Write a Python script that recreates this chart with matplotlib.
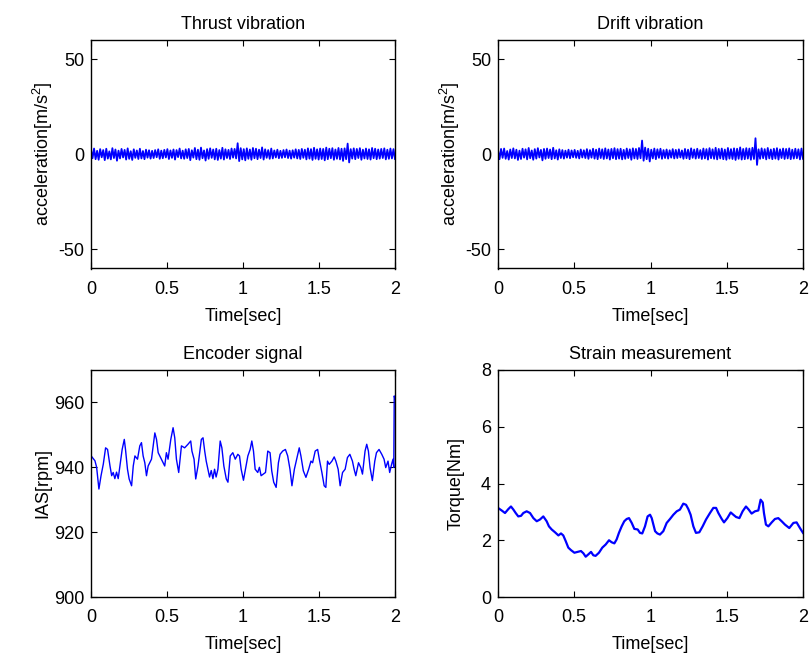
import matplotlib
matplotlib.use("Agg")
import matplotlib.pyplot as plt
import numpy as np

plt.rcParams["font.family"] = ["Liberation Sans", "DejaVu Sans"]
plt.rcParams["mathtext.fontset"] = "custom"
plt.rcParams["mathtext.rm"] = "Liberation Sans"
plt.rcParams["mathtext.it"] = "Liberation Sans"
plt.rcParams["axes.unicode_minus"] = False

# vibration samples (evenly spaced over 0..2 s)
thrust = [
    2.4, -2.1, 3.0, -2.6, 1.8, -2.9, 2.7, -1.6, 2.2, -3.1,
    2.9, -2.3, 1.5, -2.7, 3.2, -2.0, 2.5, -3.4, 1.9, -2.2,
    2.8, -1.7, 2.3, -2.8, 3.1, -2.4, 1.6, -3.0, 2.6, -1.9,
    2.0, -2.5, 2.9, -2.2, 1.7, -2.6, 2.4, -1.8, 2.1, -2.3,
    1.8, -2.0, 2.2, -1.6, 2.6, -2.4, 1.9, -2.1, 2.3, -1.7,
    2.7, -2.5, 2.0, -1.9, 2.5, -2.8, 2.2, -1.5, 3.0, -2.2,
    1.9, -2.4, 2.6, -2.0, 2.8, -3.1, 2.1, -1.8, 3.3, -2.6,
    2.4, -2.9, 3.5, -2.1, 2.0, -3.3, 2.7, -2.4, 3.1, -1.9,
    2.5, -2.7, 2.9, -3.0, 2.2, -2.3, 3.4, -2.8, 2.6, -2.0,
    2.3, -2.5, 3.0, -1.8, 2.8, -2.2, 5.8, -3.6, 3.2, -2.7,
    2.7, -3.2, 3.1, -2.4, 2.5, -2.9, 3.3, -2.1, 2.9, -2.6,
    2.4, -2.0, 3.6, -2.8, 2.6, -1.9, 2.2, -2.4, 3.0, -2.2,
    2.0, -1.7, 2.4, -2.1, 1.8, -1.9, 2.2, -1.6, 2.5, -2.0,
    1.9, -2.3, 2.1, -1.8, 2.6, -2.2, 2.3, -2.5, 2.8, -1.9,
    2.4, -2.7, 3.1, -2.3, 2.7, -3.0, 3.4, -2.4, 2.6, -2.8,
    3.0, -2.5, 2.8, -3.2, 3.5, -2.6, 2.9, -2.1, 3.2, -2.9,
    2.5, -2.4, 3.3, -2.7, 2.9, -3.5, 3.1, -2.6, 5.6, -4.3,
    2.7, -2.3, 3.1, -2.6, 2.8, -2.0, 3.2, -2.9, 2.4, -2.2,
    3.0, -2.5, 2.6, -2.8, 3.3, -2.1, 2.9, -2.6, 2.5, -2.3,
    2.8, -2.0, 3.1, -2.7, 2.4, -2.4, 3.0, -2.2, 2.7, -2.5,
]
drift = [
    2.2, -2.6, 2.8, -1.9, 3.0, -2.4, 1.7, -2.8, 2.5, -2.0,
    3.1, -2.2, 2.4, -3.0, 1.9, -2.5, 2.9, -1.8, 2.6, -2.7,
    3.3, -2.1, 2.0, -2.9, 2.7, -2.3, 3.2, -1.7, 2.3, -3.2,
    2.8, -2.4, 3.0, -2.0, 2.5, -2.6, 3.4, -2.2, 2.1, -2.8,
    2.6, -2.0, 2.2, -2.3, 1.9, -1.8, 2.4, -2.1, 2.0, -1.6,
    2.3, -1.9, 1.8, -2.2, 2.5, -1.7, 2.1, -2.0, 2.7, -2.4,
    2.2, -1.8, 2.9, -2.3, 2.4, -2.6, 3.0, -2.0, 2.6, -2.5,
    3.1, -2.2, 2.5, -2.8, 2.8, -2.1, 3.2, -2.6, 2.7, -2.3,
    2.9, -2.7, 2.3, -2.4, 3.0, -2.0, 2.6, -2.9, 3.1, -2.2,
    2.8, -2.5, 3.3, -2.1, 7.2, -3.4, 3.5, -2.6, 2.9, -3.8,
    2.4, -2.2, 3.0, -2.6, 2.6, -1.9, 2.9, -2.4, 2.2, -2.0,
    2.5, -2.3, 2.1, -1.8, 2.7, -2.2, 2.3, -2.0, 2.6, -1.7,
    2.0, -2.4, 2.8, -2.1, 2.4, -2.6, 3.1, -1.9, 2.5, -2.3,
    2.9, -2.0, 2.2, -2.5, 3.0, -2.2, 2.7, -2.8, 3.2, -2.1,
    2.6, -2.4, 3.4, -2.7, 2.8, -2.2, 3.0, -2.6, 2.5, -2.9,
    3.3, -2.3, 2.7, -2.5, 3.1, -3.0, 2.9, -2.4, 3.6, -2.8,
    2.8, -2.6, 3.2, -2.3, 3.0, -2.9, 3.4, -2.5, 8.4, -5.6,
    2.6, -2.4, 3.1, -2.1, 2.7, -2.7, 3.3, -2.2, 2.5, -2.6,
    2.9, -2.3, 3.2, -2.8, 2.6, -2.0, 3.0, -2.5, 2.8, -2.2,
    3.1, -2.6, 2.4, -2.3, 2.9, -2.1, 2.6, -2.7, 3.0, -2.4,
]

enc_t = [
    0.000, 0.001, 0.026, 0.037, 0.048, 0.052, 0.066, 0.081, 0.096, 0.109,
    0.125, 0.136, 0.146, 0.157, 0.168, 0.179, 0.190, 0.205, 0.219, 0.227,
    0.240, 0.251, 0.267, 0.278, 0.289, 0.306, 0.321, 0.332, 0.343, 0.354,
    0.365, 0.376, 0.398, 0.409, 0.420, 0.431, 0.442, 0.463, 0.485, 0.496,
    0.507, 0.525, 0.540, 0.551, 0.562, 0.577, 0.595, 0.616, 0.638, 0.656,
    0.664, 0.678, 0.689, 0.704, 0.726, 0.737, 0.748, 0.758, 0.769, 0.780,
    0.791, 0.802, 0.813, 0.823, 0.835, 0.850, 0.861, 0.874, 0.890, 0.901,
    0.916, 0.933, 0.949, 0.966, 0.977, 0.988, 1.003, 1.016, 1.032, 1.047,
    1.058, 1.069, 1.080, 1.097, 1.108, 1.119, 1.134, 1.148, 1.163, 1.178,
    1.189, 1.202, 1.218, 1.233, 1.244, 1.261, 1.279, 1.294, 1.309, 1.322,
    1.338, 1.353, 1.370, 1.381, 1.397, 1.414, 1.432, 1.447, 1.458, 1.475,
    1.491, 1.502, 1.519, 1.534, 1.545, 1.556, 1.567, 1.585, 1.600, 1.611,
    1.626, 1.639, 1.655, 1.672, 1.687, 1.703, 1.720, 1.731, 1.742, 1.760,
    1.775, 1.786, 1.803, 1.814, 1.825, 1.836, 1.851, 1.867, 1.878, 1.895,
    1.913, 1.928, 1.939, 1.954, 1.965, 1.978, 1.987, 1.992, 1.995, 2.000,
]
enc_rpm = [
    961.0, 943.5, 942.0, 940.0, 935.0, 933.3, 937.4, 941.0, 946.0, 945.5,
    940.4, 937.4, 938.4, 936.5, 938.5, 936.5, 940.4, 945.5, 948.6, 945.5,
    939.4, 936.4, 934.3, 940.4, 943.5, 942.5, 946.6, 947.6, 943.5, 941.4,
    937.4, 940.4, 942.5, 946.6, 950.6, 948.6, 944.5, 942.5, 940.4, 944.5,
    942.5, 948.6, 952.2, 949.1, 942.5, 938.4, 946.6, 946.0, 947.1, 948.1,
    945.0, 942.5, 936.4, 940.4, 948.6, 949.1, 945.0, 941.9, 939.4, 937.0,
    939.0, 936.5, 939.4, 937.0, 939.4, 948.1, 946.0, 940.4, 936.4, 935.4,
    943.5, 944.5, 942.5, 944.0, 943.5, 939.4, 936.0, 939.4, 943.5, 945.5,
    948.1, 945.0, 939.4, 938.4, 940.0, 937.4, 937.9, 938.4, 945.0, 944.5,
    938.9, 935.4, 933.8, 941.4, 944.0, 945.0, 945.5, 943.5, 939.4, 934.3,
    939.4, 942.5, 946.0, 943.5, 938.9, 936.9, 939.4, 941.9, 941.4, 945.0,
    945.5, 942.5, 938.4, 934.3, 933.8, 941.9, 940.9, 941.9, 943.2, 941.9,
    939.4, 934.3, 938.4, 939.4, 943.0, 944.0, 941.9, 939.4, 937.4, 941.4,
    939.9, 937.9, 945.0, 947.1, 945.0, 939.9, 935.9, 941.9, 944.5, 945.5,
    944.0, 942.5, 939.9, 941.9, 938.4, 941.0, 942.5, 940.0, 962.0, 961.0,
]

strain_t = [
    0.000, 0.024, 0.046, 0.068, 0.085, 0.101, 0.116, 0.133, 0.151, 0.166,
    0.188, 0.210, 0.232, 0.254, 0.275, 0.297, 0.319, 0.334, 0.352, 0.374,
    0.396, 0.413, 0.428, 0.444, 0.461, 0.479, 0.501, 0.522, 0.544, 0.560,
    0.575, 0.592, 0.610, 0.625, 0.640, 0.662, 0.684, 0.706, 0.728, 0.745,
    0.763, 0.778, 0.793, 0.811, 0.828, 0.844, 0.859, 0.877, 0.894, 0.916,
    0.931, 0.946, 0.964, 0.981, 0.997, 1.008, 1.030, 1.045, 1.062, 1.084,
    1.106, 1.128, 1.150, 1.172, 1.193, 1.215, 1.233, 1.248, 1.263, 1.281,
    1.298, 1.320, 1.342, 1.364, 1.390, 1.412, 1.430, 1.445, 1.467, 1.482,
    1.504, 1.526, 1.543, 1.561, 1.583, 1.604, 1.626, 1.644, 1.663, 1.685,
    1.707, 1.722, 1.736, 1.744, 1.757, 1.773, 1.795, 1.816, 1.838, 1.860,
    1.882, 1.910, 1.937, 1.958, 1.980, 2.000,
]
strain_nm = [
    3.14, 3.05, 2.96, 3.10, 3.19, 3.08, 2.96, 2.84, 2.86, 2.96,
    3.02, 2.96, 2.78, 2.67, 2.73, 2.84, 2.67, 2.49, 2.38, 2.28,
    2.17, 2.24, 2.17, 1.97, 1.74, 1.65, 1.56, 1.59, 1.62, 1.54,
    1.42, 1.50, 1.59, 1.47, 1.45, 1.56, 1.74, 1.85, 2.00, 1.93,
    1.89, 2.03, 2.26, 2.49, 2.67, 2.75, 2.78, 2.61, 2.40, 2.38,
    2.26, 2.24, 2.49, 2.84, 2.90, 2.78, 2.32, 2.24, 2.20, 2.32,
    2.61, 2.75, 2.90, 3.02, 3.08, 3.29, 3.25, 3.10, 2.90, 2.49,
    2.26, 2.28, 2.49, 2.73, 2.96, 3.14, 3.14, 2.96, 2.75, 2.63,
    2.78, 2.98, 2.90, 2.82, 2.78, 3.02, 3.19, 3.08, 2.94, 3.02,
    3.05, 3.43, 3.33, 2.96, 2.55, 2.49, 2.63, 2.75, 2.78, 2.67,
    2.55, 2.43, 2.61, 2.63, 2.43, 2.26,
]

x_ticks = [0, 0.5, 1, 1.5, 2]
x_labels = ["0", "0.5", "1", "1.5", "2"]

fs = 13
blue = "#0000ff"

fig = plt.figure(figsize=(8.11, 6.60), dpi=100)
W, H = 811, 660


def make_ax(x0, y0, x1, y1):
    ax = fig.add_axes([x0 / W, 1 - y1 / H, (x1 - x0) / W, (y1 - y0) / H])
    ax.tick_params(direction="in", top=True, right=True, length=4,
                   labelsize=fs)
    ax.tick_params(axis="x", pad=9)
    ax.tick_params(axis="y", pad=5)
    for s in ax.spines.values():
        s.set_linewidth(1.0)
    ax.set_xlim(0, 2)
    ax.set_xticks(x_ticks)
    ax.set_xticklabels(x_labels)
    ax.set_xlabel("Time[sec]", fontsize=fs, labelpad=7)
    return ax


ax1 = make_ax(91, 40, 395, 268.5)
t_vib = np.linspace(0, 2, len(thrust))
ax1.plot(t_vib, thrust, color=blue, lw=1.3)
ax1.set_ylim(-60, 60)
ax1.set_yticks([-50, 0, 50])
ax1.set_title("Thrust vibration", fontsize=fs, pad=8)
ax1.set_ylabel(r"acceleration[m/s$^2$]", fontsize=fs, labelpad=2)

ax2 = make_ax(498, 40, 803, 268.5)
t_vib2 = np.linspace(0, 2, len(drift))
ax2.plot(t_vib2, drift, color=blue, lw=1.3)
ax2.set_ylim(-60, 60)
ax2.set_yticks([-50, 0, 50])
ax2.set_title("Drift vibration", fontsize=fs, pad=8)
ax2.set_ylabel(r"acceleration[m/s$^2$]", fontsize=fs, labelpad=2)

ax3 = make_ax(91, 370, 395, 597)
ax3.plot(enc_t, enc_rpm, color=blue, lw=1.0)
ax3.set_ylim(900, 970)
ax3.set_yticks([900, 920, 940, 960])
ax3.set_title("Encoder signal", fontsize=fs, pad=8)
ax3.set_ylabel("IAS[rpm]", fontsize=fs, labelpad=2)

ax4 = make_ax(498, 370, 803, 597)
ax4.plot(strain_t, strain_nm, color=blue, lw=1.6)
ax4.set_ylim(0, 8)
ax4.set_yticks([0, 2, 4, 6, 8])
ax4.set_title("Strain measurement", fontsize=fs, pad=8)
ax4.set_ylabel("Torque[Nm]", fontsize=fs, labelpad=12)

fig.savefig("out.png", dpi=100)
